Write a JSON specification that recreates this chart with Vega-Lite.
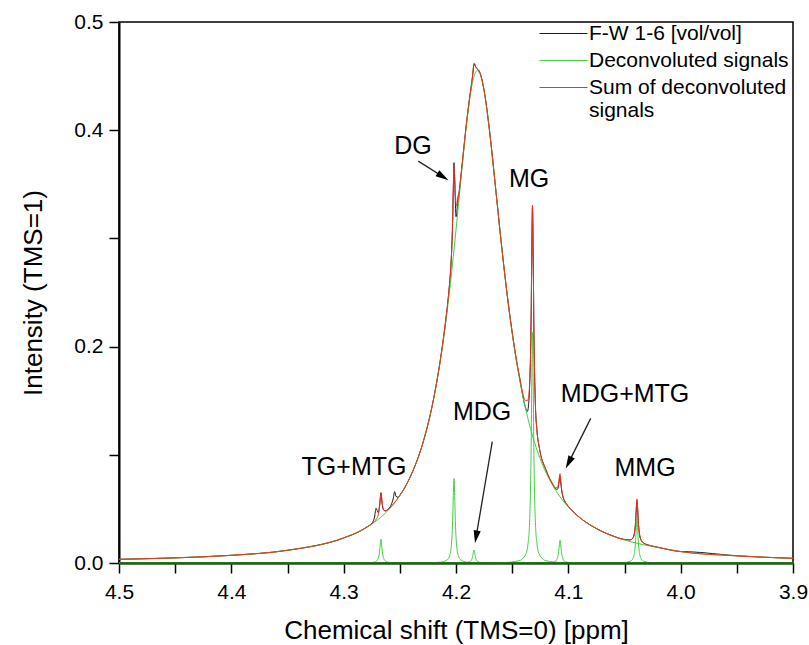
{
"$schema": "https://vega.github.io/schema/vega-lite/v6.json",
"width": 674, "height": 541,
"autosize": {"type": "none"},
"padding": {"left": 119, "top": 22, "right": 16, "bottom": 82},
"background": "white",
"config": {
 "font": "Liberation Sans",
 "view": {"stroke": "#000", "strokeWidth": 1.5},
 "axis": {"grid": false, "labelFont": "Liberation Sans", "titleFont": "Liberation Sans", "labelColor": "#000", "titleColor": "#000", "titleFontWeight": "normal", "tickColor": "#000", "domainColor": "#000"}
},
"datasets": {
 "exp": [{"x":4.5,"y":0.0034},{"x":4.45,"y":0.0048},{"x":4.4,"y":0.0071},{"x":4.35,"y":0.0118},{"x":4.3,"y":0.0232},{"x":4.285,"y":0.0298},{"x":4.2788,"y":0.0337},{"x":4.2745,"y":0.0372},{"x":4.2725,"y":0.0425},{"x":4.2712,"y":0.0505},{"x":4.2702,"y":0.0485},{"x":4.2693,"y":0.0465},{"x":4.268,"y":0.0535},{"x":4.2674,"y":0.06},{"x":4.2668,"y":0.065},{"x":4.2662,"y":0.06},{"x":4.2656,"y":0.0535},{"x":4.2643,"y":0.049},{"x":4.2628,"y":0.0482},{"x":4.2608,"y":0.0495},{"x":4.2578,"y":0.0535},{"x":4.2558,"y":0.06},{"x":4.2546,"y":0.066},{"x":4.2534,"y":0.0615},{"x":4.2515,"y":0.0608},{"x":4.25,"y":0.0626},{"x":4.24,"y":0.0814},{"x":4.23,"y":0.1092},{"x":4.22,"y":0.1515},{"x":4.2138,"y":0.1887},{"x":4.21,"y":0.2172},{"x":4.2078,"y":0.2363},{"x":4.2058,"y":0.2573},{"x":4.2043,"y":0.279},{"x":4.203,"y":0.315},{"x":4.2024,"y":0.345},{"x":4.2018,"y":0.37},{"x":4.2012,"y":0.355},{"x":4.2006,"y":0.335},{"x":4.2,"y":0.32},{"x":4.1993,"y":0.323},{"x":4.1985,"y":0.336},{"x":4.197,"y":0.344},{"x":4.1958,"y":0.356},{"x":4.19,"y":0.4123},{"x":4.188,"y":0.4289},{"x":4.1865,"y":0.4402},{"x":4.1852,"y":0.4505},{"x":4.1846,"y":0.4565},{"x":4.184,"y":0.461},{"x":4.1834,"y":0.4608},{"x":4.1828,"y":0.4592},{"x":4.1815,"y":0.457},{"x":4.18,"y":0.4556},{"x":4.178,"y":0.4511},{"x":4.175,"y":0.4369},{"x":4.17,"y":0.3982},{"x":4.165,"y":0.3491},{"x":4.16,"y":0.2989},{"x":4.155,"y":0.2528},{"x":4.15,"y":0.2133},{"x":4.145,"y":0.18},{"x":4.1439,"y":0.174},{"x":4.1379,"y":0.143},{"x":4.1365,"y":0.14},{"x":4.1355,"y":0.145},{"x":4.1344,"y":0.165},{"x":4.1331,"y":0.228},{"x":4.1325,"y":0.29},{"x":4.1319,"y":0.33},{"x":4.1313,"y":0.286},{"x":4.1307,"y":0.22},{"x":4.1294,"y":0.149},{"x":4.1279,"y":0.1221},{"x":4.1259,"y":0.107},{"x":4.12,"y":0.0863},{"x":4.1134,"y":0.0715},{"x":4.1114,"y":0.0685},{"x":4.11,"y":0.068},{"x":4.1086,"y":0.072},{"x":4.108,"y":0.077},{"x":4.1074,"y":0.08},{"x":4.1068,"y":0.075},{"x":4.1062,"y":0.069},{"x":4.1049,"y":0.0615},{"x":4.1034,"y":0.0575},{"x":4.1014,"y":0.0542},{"x":4.0954,"y":0.0472},{"x":4.09,"y":0.0421},{"x":4.08,"y":0.0349},{"x":4.06,"y":0.0249},{"x":4.0509,"y":0.0219},{"x":4.0449,"y":0.0214},{"x":4.0429,"y":0.0225},{"x":4.0414,"y":0.0262},{"x":4.0401,"y":0.038},{"x":4.0395,"y":0.0495},{"x":4.0389,"y":0.0575},{"x":4.0383,"y":0.0495},{"x":4.0377,"y":0.038},{"x":4.0364,"y":0.0252},{"x":4.0349,"y":0.0206},{"x":4.0329,"y":0.0185},{"x":4.0269,"y":0.0161},{"x":4.02,"y":0.0145},{"x":4.0,"y":0.0106},{"x":3.993,"y":0.0104},{"x":3.95,"y":0.0067},{"x":3.9,"y":0.0043}],
 "sum": [{"x":4.5,"y":0.0034},{"x":4.45,"y":0.0047},{"x":4.4,"y":0.0071},{"x":4.35,"y":0.0117},{"x":4.3,"y":0.0231},{"x":4.285,"y":0.0297},{"x":4.2788,"y":0.0335},{"x":4.2728,"y":0.0383},{"x":4.2708,"y":0.0408},{"x":4.2693,"y":0.0443},{"x":4.268,"y":0.0523},{"x":4.2674,"y":0.0594},{"x":4.2668,"y":0.0644},{"x":4.2662,"y":0.0605},{"x":4.2656,"y":0.0545},{"x":4.2643,"y":0.0488},{"x":4.2628,"y":0.048},{"x":4.2608,"y":0.0491},{"x":4.2548,"y":0.0557},{"x":4.25,"y":0.0625},{"x":4.24,"y":0.0813},{"x":4.23,"y":0.1091},{"x":4.22,"y":0.1514},{"x":4.2138,"y":0.1886},{"x":4.21,"y":0.2171},{"x":4.2078,"y":0.2363},{"x":4.2058,"y":0.2573},{"x":4.2043,"y":0.2794},{"x":4.203,"y":0.3164},{"x":4.2024,"y":0.3457},{"x":4.2018,"y":0.3674},{"x":4.2012,"y":0.3579},{"x":4.2006,"y":0.3407},{"x":4.1993,"y":0.3299},{"x":4.1978,"y":0.3378},{"x":4.1958,"y":0.3559},{"x":4.19,"y":0.4123},{"x":4.188,"y":0.4289},{"x":4.1865,"y":0.4402},{"x":4.1852,"y":0.451},{"x":4.1846,"y":0.4573},{"x":4.184,"y":0.462},{"x":4.1834,"y":0.4616},{"x":4.1828,"y":0.4595},{"x":4.1815,"y":0.4572},{"x":4.18,"y":0.4558},{"x":4.178,"y":0.4511},{"x":4.175,"y":0.4369},{"x":4.17,"y":0.3982},{"x":4.165,"y":0.3491},{"x":4.16,"y":0.2989},{"x":4.155,"y":0.2528},{"x":4.15,"y":0.2133},{"x":4.145,"y":0.1809},{"x":4.1439,"y":0.1747},{"x":4.1379,"y":0.15},{"x":4.1359,"y":0.1507},{"x":4.1344,"y":0.1668},{"x":4.1331,"y":0.2285},{"x":4.1325,"y":0.2902},{"x":4.1319,"y":0.3307},{"x":4.1313,"y":0.286},{"x":4.1307,"y":0.22},{"x":4.1294,"y":0.149},{"x":4.1279,"y":0.1221},{"x":4.1259,"y":0.107},{"x":4.12,"y":0.0863},{"x":4.1194,"y":0.0848},{"x":4.1134,"y":0.0724},{"x":4.1114,"y":0.0697},{"x":4.1099,"y":0.0694},{"x":4.1086,"y":0.0739},{"x":4.108,"y":0.0793},{"x":4.1074,"y":0.0826},{"x":4.1068,"y":0.0776},{"x":4.1062,"y":0.0705},{"x":4.1049,"y":0.062},{"x":4.1034,"y":0.0579},{"x":4.1014,"y":0.0544},{"x":4.0954,"y":0.0472},{"x":4.09,"y":0.0421},{"x":4.08,"y":0.0348},{"x":4.06,"y":0.0248},{"x":4.0509,"y":0.0219},{"x":4.0449,"y":0.0214},{"x":4.0429,"y":0.0226},{"x":4.0414,"y":0.0265},{"x":4.0401,"y":0.039},{"x":4.0395,"y":0.0511},{"x":4.0389,"y":0.0592},{"x":4.0383,"y":0.0508},{"x":4.0377,"y":0.0384},{"x":4.0364,"y":0.0253},{"x":4.0349,"y":0.0206},{"x":4.0329,"y":0.0184},{"x":4.0269,"y":0.016},{"x":4.02,"y":0.0144},{"x":4.0,"y":0.0105},{"x":3.95,"y":0.0066},{"x":3.9,"y":0.0043}],
 "dec": [
  {"c":"b","x":4.5,"y":0.0034},{"c":"b","x":4.45,"y":0.0047},{"c":"b","x":4.4,"y":0.0071},{"c":"b","x":4.35,"y":0.0117},{"c":"b","x":4.3,"y":0.0231},{"c":"b","x":4.28,"y":0.0326},{"c":"b","x":4.26,"y":0.0492},{"c":"b","x":4.25,"y":0.0624},{"c":"b","x":4.24,"y":0.0812},{"c":"b","x":4.23,"y":0.109},{"c":"b","x":4.22,"y":0.1511},{"c":"b","x":4.21,"y":0.2154},{"c":"b","x":4.205,"y":0.2582},{"c":"b","x":4.2,"y":0.3079},{"c":"b","x":4.195,"y":0.3613},{"c":"b","x":4.19,"y":0.411},{"c":"b","x":4.185,"y":0.4456},{"c":"b","x":4.183,"y":0.4526},{"c":"b","x":4.181,"y":0.455},{"c":"b","x":4.179,"y":0.4528},{"c":"b","x":4.175,"y":0.4363},{"c":"b","x":4.17,"y":0.3978},{"c":"b","x":4.165,"y":0.3488},{"c":"b","x":4.16,"y":0.2985},{"c":"b","x":4.155,"y":0.2522},{"c":"b","x":4.15,"y":0.2124},{"c":"b","x":4.145,"y":0.1791},{"c":"b","x":4.14,"y":0.1517},{"c":"b","x":4.135,"y":0.1294},{"c":"b","x":4.13,"y":0.1112},{"c":"b","x":4.125,"y":0.0962},{"c":"b","x":4.12,"y":0.0839},{"c":"b","x":4.11,"y":0.0651},{"c":"b","x":4.1,"y":0.0517},{"c":"b","x":4.09,"y":0.0419},{"c":"b","x":4.08,"y":0.0347},{"c":"b","x":4.06,"y":0.0247},{"c":"b","x":4.04,"y":0.0185},{"c":"b","x":4.02,"y":0.0143},{"c":"b","x":4.0,"y":0.0105},{"c":"b","x":3.95,"y":0.0066},{"c":"b","x":3.9,"y":0.0043},
  {"c":"p1","x":4.5,"y":0},{"c":"p1","x":4.2918,"y":0.0001},{"c":"p1","x":4.2788,"y":0.0002},{"c":"p1","x":4.2728,"y":0.0008},{"c":"p1","x":4.2708,"y":0.0018},{"c":"p1","x":4.2693,"y":0.0041},{"c":"p1","x":4.268,"y":0.011},{"c":"p1","x":4.2674,"y":0.0176},{"c":"p1","x":4.2668,"y":0.022},{"c":"p1","x":4.2662,"y":0.0176},{"c":"p1","x":4.2656,"y":0.011},{"c":"p1","x":4.2643,"y":0.0041},{"c":"p1","x":4.2628,"y":0.0018},{"c":"p1","x":4.2608,"y":0.0008},{"c":"p1","x":4.2548,"y":0.0002},{"c":"p1","x":4.2418,"y":0.0001},{"c":"p1","x":3.9,"y":0},
  {"c":"p2","x":4.5,"y":0},{"c":"p2","x":4.2268,"y":0.0002},{"c":"p2","x":4.2138,"y":0.0008},{"c":"p2","x":4.2078,"y":0.003},{"c":"p2","x":4.2058,"y":0.0064},{"c":"p2","x":4.2043,"y":0.0146},{"c":"p2","x":4.203,"y":0.039},{"c":"p2","x":4.2024,"y":0.0624},{"c":"p2","x":4.2018,"y":0.078},{"c":"p2","x":4.2012,"y":0.0624},{"c":"p2","x":4.2006,"y":0.039},{"c":"p2","x":4.1993,"y":0.0146},{"c":"p2","x":4.1978,"y":0.0064},{"c":"p2","x":4.1958,"y":0.003},{"c":"p2","x":4.1898,"y":0.0008},{"c":"p2","x":4.1768,"y":0.0002},{"c":"p2","x":3.9,"y":0},
  {"c":"p3","x":4.5,"y":0},{"c":"p3","x":4.209,"y":0},{"c":"p3","x":4.196,"y":0.0001},{"c":"p3","x":4.19,"y":0.0005},{"c":"p3","x":4.188,"y":0.001},{"c":"p3","x":4.1865,"y":0.0022},{"c":"p3","x":4.1852,"y":0.006},{"c":"p3","x":4.1846,"y":0.0096},{"c":"p3","x":4.184,"y":0.012},{"c":"p3","x":4.1834,"y":0.0096},{"c":"p3","x":4.1828,"y":0.006},{"c":"p3","x":4.1815,"y":0.0022},{"c":"p3","x":4.18,"y":0.001},{"c":"p3","x":4.178,"y":0.0005},{"c":"p3","x":4.172,"y":0.0001},{"c":"p3","x":4.159,"y":0},{"c":"p3","x":3.9,"y":0},
  {"c":"p4","x":4.5,"y":0},{"c":"p4","x":4.1569,"y":0.0005},{"c":"p4","x":4.1439,"y":0.0021},{"c":"p4","x":4.1379,"y":0.0082},{"c":"p4","x":4.1359,"y":0.0176},{"c":"p4","x":4.1344,"y":0.0398},{"c":"p4","x":4.1331,"y":0.1065},{"c":"p4","x":4.1325,"y":0.1704},{"c":"p4","x":4.1319,"y":0.213},{"c":"p4","x":4.1313,"y":0.1704},{"c":"p4","x":4.1307,"y":0.1065},{"c":"p4","x":4.1294,"y":0.0398},{"c":"p4","x":4.1279,"y":0.0176},{"c":"p4","x":4.1259,"y":0.0082},{"c":"p4","x":4.1199,"y":0.0021},{"c":"p4","x":4.1069,"y":0.0005},{"c":"p4","x":3.9,"y":0},
  {"c":"p5","x":4.5,"y":0},{"c":"p5","x":4.1324,"y":0},{"c":"p5","x":4.1194,"y":0.0002},{"c":"p5","x":4.1134,"y":0.0008},{"c":"p5","x":4.1114,"y":0.0017},{"c":"p5","x":4.1099,"y":0.0039},{"c":"p5","x":4.1086,"y":0.0105},{"c":"p5","x":4.108,"y":0.0168},{"c":"p5","x":4.1074,"y":0.021},{"c":"p5","x":4.1068,"y":0.0168},{"c":"p5","x":4.1062,"y":0.0105},{"c":"p5","x":4.1049,"y":0.0039},{"c":"p5","x":4.1034,"y":0.0017},{"c":"p5","x":4.1014,"y":0.0008},{"c":"p5","x":4.0954,"y":0.0002},{"c":"p5","x":4.0824,"y":0},{"c":"p5","x":3.9,"y":0},
  {"c":"p6","x":4.5,"y":0},{"c":"p6","x":4.0639,"y":0.0001},{"c":"p6","x":4.0509,"y":0.0004},{"c":"p6","x":4.0449,"y":0.0016},{"c":"p6","x":4.0429,"y":0.0034},{"c":"p6","x":4.0414,"y":0.0077},{"c":"p6","x":4.0401,"y":0.0205},{"c":"p6","x":4.0395,"y":0.0328},{"c":"p6","x":4.0389,"y":0.041},{"c":"p6","x":4.0383,"y":0.0328},{"c":"p6","x":4.0377,"y":0.0205},{"c":"p6","x":4.0364,"y":0.0077},{"c":"p6","x":4.0349,"y":0.0034},{"c":"p6","x":4.0329,"y":0.0016},{"c":"p6","x":4.0269,"y":0.0004},{"c":"p6","x":4.0139,"y":0.0001},{"c":"p6","x":3.9,"y":0}
 ],
 "labels": [{"t":"DG","x":4.2383,"y":0.3852},{"t":"MG","x":4.135,"y":0.3547},{"t":"MDG","x":4.1768,"y":0.1395},{"t":"MDG+MTG","x":4.0495,"y":0.1561},{"t":"TG+MTG","x":4.2908,"y":0.0887},{"t":"MMG","x":4.0317,"y":0.0878}],
 "arrows": [{"a":"DG","x":4.2336,"y":0.3714,"x2":4.2116,"y2":0.357},{"a":"MDG","x":4.1677,"y":0.1121,"x2":4.1821,"y2":0.0241},{"a":"MDG+MTG","x":4.0801,"y":0.1337,"x2":4.0997,"y2":0.0928}],
 "heads": [{"a":"DG","x":4.2116,"y":0.357},{"a":"MDG","x":4.1821,"y":0.0241},{"a":"MDG+MTG","x":4.0997,"y":0.0928}]
},
"encoding": {
 "x": {"field": "x", "type": "quantitative", "title": "Chemical shift (TMS=0) [ppm]",
  "scale": {"domain": [3.9, 4.5], "reverse": true, "nice": false, "zero": false},
  "axis": {"values": [3.9,3.95,4.0,4.05,4.1,4.15,4.2,4.25,4.3,4.35,4.4,4.45,4.5],
   "labelExpr": "abs(datum.value*10 - round(datum.value*10)) < 0.01 ? format(datum.value, '.1f') : ''",
   "tickSize": 10, "tickWidth": 1.5, "labelFontSize": 21, "labelPadding": 8, "titleFontSize": 26, "titlePadding": 15,
   "domainColor": "#235a1a", "domainWidth": 2.5, "labelFlush": false, "labelOverlap": false, "zindex": 1}},
 "y": {"field": "y", "type": "quantitative", "title": "Intensity (TMS=1)",
  "scale": {"domain": [0, 0.5], "nice": false},
  "axis": {"values": [0,0.1,0.2,0.3,0.4,0.5],
   "labelExpr": "(abs(datum.value-0.1)<0.01 || abs(datum.value-0.3)<0.01) ? '' : format(datum.value, '.1f')",
   "tickSize": 10, "tickWidth": 1.5, "labelFontSize": 21, "labelPadding": 6, "titleFontSize": 26, "titlePadding": 27,
   "domainWidth": 2, "labelFlush": false, "labelOverlap": false}}
},
"layer": [
 {"data": {"name": "exp"}, "mark": {"type": "line", "strokeWidth": 1, "interpolate": "monotone"},
  "encoding": {"color": {"datum": "F-W 1-6 [vol/vol]", "type": "nominal",
   "scale": {"domain": ["F-W 1-6 [vol/vol]", "Deconvoluted signals", "Sum of deconvoluted signals"], "range": ["#1a1a1a", "#3fd23f", "#f5321e"]},
   "legend": {"title": null, "orient": "none", "legendX": 434, "legendY": 1, "symbolType": "M-4,0H4", "symbolSize": 144, "symbolStrokeWidth": 1.2,
    "labelFontSize": 21, "labelFont": "Liberation Sans", "labelColor": "#000", "labelOffset": 15, "labelLimit": 0, "padding": 0, "rowPadding": 5,
    "labelExpr": "datum.label == 'Sum of deconvoluted signals' ? ['Sum of deconvoluted', 'signals'] : datum.label"}}}},
 {"data": {"name": "dec"}, "mark": {"type": "line", "strokeWidth": 1, "interpolate": "monotone"},
  "encoding": {"detail": {"field": "c"}, "color": {"datum": "Deconvoluted signals", "type": "nominal"}}},
 {"data": {"name": "sum"}, "mark": {"type": "line", "strokeWidth": 1, "interpolate": "monotone"},
  "encoding": {"color": {"datum": "Sum of deconvoluted signals", "type": "nominal"}}},
 {"data": {"name": "labels"}, "mark": {"type": "text", "fontSize": 25, "font": "Liberation Sans", "color": "#000", "align": "center", "baseline": "middle"},
  "encoding": {"text": {"field": "t"}}},
 {"data": {"name": "arrows"}, "mark": {"type": "rule", "color": "#222", "strokeWidth": 1.3},
  "encoding": {"x2": {"field": "x2"}, "y2": {"field": "y2"}}},
 {"data": {"name": "heads"}, "transform": [{"filter": "datum.a == 'DG'"}], "mark": {"type": "point", "shape": "M0,-1L-0.55,1L0.55,1Z", "size": 169, "filled": true, "color": "#000", "opacity": 1, "angle": 122}},
 {"data": {"name": "heads"}, "transform": [{"filter": "datum.a == 'MDG'"}], "mark": {"type": "point", "shape": "M0,-1L-0.55,1L0.55,1Z", "size": 169, "filled": true, "color": "#000", "opacity": 1, "angle": 190}},
 {"data": {"name": "heads"}, "transform": [{"filter": "datum.a == 'MDG+MTG'"}], "mark": {"type": "point", "shape": "M0,-1L-0.55,1L0.55,1Z", "size": 169, "filled": true, "color": "#000", "opacity": 1, "angle": 207}}
]
}
